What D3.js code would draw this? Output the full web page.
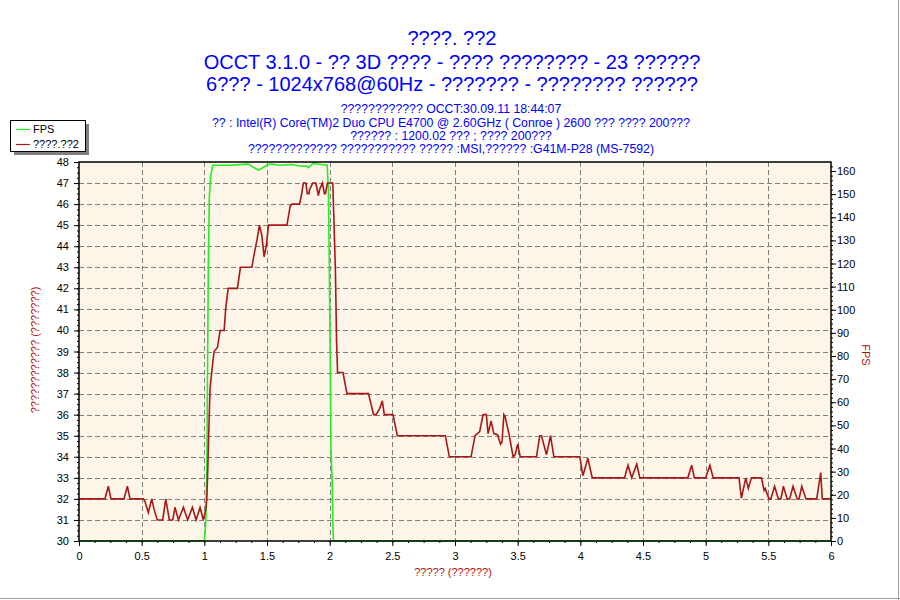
<!DOCTYPE html>
<html><head><meta charset="utf-8">
<script src="https://cdn.jsdelivr.net/npm/d3@7"></script>
<style>body{margin:0;background:#fff}svg{display:block}</style>
</head><body>
<svg id="c" width="900" height="600"></svg>
<script>
const titleLines = ["????. ??2","OCCT 3.1.0 - ?? 3D ???? - ???? ???????? - 23 ??????","6??? - 1024x768@60Hz - ??????? - ???????? ??????"];
const infoLines = ["???????????? OCCT:30.09.11 18:44:07","?? : Intel(R) Core(TM)2 Duo CPU E4700 @ 2.60GHz ( Conroe ) 2600 ??? ???? 200???","?????? : 1200.02 ??? ; ???? 200???","????????????? ??????????? ????? :MSI,?????? :G41M-P28 (MS-7592)"];
const legendNames = ["FPS","????.??2"];
const xTitle = "????? (??????)";
const yLeftTitle = "???????????? (???????)";
const yRightTitle = "FPS";
const xTickValues = [0,0.5,1,1.5,2,2.5,3,3.5,4,4.5,5,5.5,6];
const yLeftTickValues = [30,31,32,33,34,35,36,37,38,39,40,41,42,43,44,45,46,47,48];
const yRightTickValues = [0,10,20,30,40,50,60,70,80,90,100,110,120,130,140,150,160];

// temperature series (red, left axis)
const tempT = [0,0.207,0.234,0.255,0.359,0.386,0.407,0.513,0.525,0.553,0.58,0.599,0.625,0.668,0.692,0.721,0.748,0.766,0.793,0.833,0.867,0.905,0.934,0.966,0.992,1.012,1.02,1.028,1.038,1.046,1.068,1.078,1.105,1.126,1.158,1.17,1.19,1.264,1.288,1.379,1.40,1.42,1.44,1.459,1.477,1.494,1.512,1.659,1.685,1.70,1.76,1.777,1.79,1.81,1.822,1.835,1.84,1.865,1.89,1.91,1.92,1.942,1.958,1.966,1.982,2.025,2.035,2.046,2.055,2.063,2.106,2.138,2.31,2.35,2.37,2.40,2.42,2.436,2.505,2.54,2.923,2.955,3.128,3.16,3.197,3.224,3.25,3.264,3.288,3.31,3.34,3.363,3.375,3.39,3.40,3.43,3.464,3.48,3.50,3.52,3.65,3.676,3.69,3.73,3.762,3.789,3.996,4.02,4.04,4.06,4.095,4.353,4.38,4.41,4.45,4.475,4.858,4.888,4.91,5.0,5.034,5.06,5.266,5.285,5.32,5.34,5.365,5.445,5.466,5.475,5.505,5.52,5.55,5.58,5.60,5.62,5.65,5.67,5.697,5.73,5.745,5.767,5.80,5.886,5.918,5.93,6];
const tempV = [32,32,32.6,32,32,32.6,32,32,31.9,31.35,32,31.5,31,31,32,31,31,31.6,31,31.6,31,31.6,31,31.6,31,31.5,32,33.5,35.75,37.3,38.5,39,39.2,40,40,41,42,42,43,43,43.7,44.3,45,44.5,43.5,44,45,45,45.9,46,46,46.5,47,47,46.5,46.5,46.7,47,47,46.4,46.7,47,46.5,46.5,47,47,45,42.8,39.5,38,38,37,37,36,36,36.3,36.66,36,36,35,35,34,34,35,35.2,36,36,35.1,35.7,35.1,35.05,34.6,34.7,36,35.9,35.1,34,34.1,34.6,34,34,35,35,34.1,35,34,34,33.1,33.5,33.93,33,33,33.6,33,33.65,33,33,33.6,33,33,33.6,33,33,32.03,33,32.5,33,33,32.4,32.5,32,32,32.6,32,32,32.6,32,32,32.6,32,32,32.6,32,32,33.25,32,32];

// FPS series (green, right axis)
const fpsT = [0,1.0,1.012,1.02,1.025,1.032,1.04,1.05,1.067,1.2,1.35,1.38,1.406,1.432,1.46,1.5,1.53,1.6,1.7,1.75,1.82,1.83,1.87,1.9,1.98,1.99,1.997,2.003,2.01,2.02,2.025,2.03,6];
const fpsV = [0,0,8,30,70,119,149,157.5,162.5,162.5,163,162,161.2,160.4,161.2,162.5,163,162.5,162.8,162.3,162,161.5,163.4,163,162.5,151.8,119,85,40,26,8,0,0];

const svg = d3.select("#c");
const L = 79, R = 831, T = 162, B = 541;
const x = d3.scaleLinear().domain([0,6]).range([L,R]);
const yL = d3.scaleLinear().domain([30,48]).range([B,T]);
const yR = d3.scaleLinear().domain([0,163.9]).range([B,T]);
const FONT = "'Liberation Sans', Arial, sans-serif";

// frame lines
svg.append("line").attr("x1",898.5).attr("x2",898.5).attr("y1",0).attr("y2",600).attr("stroke","#a0a0a0").attr("stroke-width",1);
svg.append("line").attr("x1",0).attr("x2",900).attr("y1",598.5).attr("y2",598.5).attr("stroke","#a0a0a0").attr("stroke-width",1);

// titles
const titleY = [45,69,91];
titleLines.forEach((t,i)=>svg.append("text").attr("x",452).attr("y",titleY[i]).attr("text-anchor","middle")
  .attr("font-family",FONT).attr("font-size",20).attr("fill","#0000ff").text(t));
const infoY = [113,127,140,153];
infoLines.forEach((t,i)=>svg.append("text").attr("x",451).attr("y",infoY[i]).attr("text-anchor","middle")
  .attr("font-family",FONT).attr("font-size",12.3).attr("fill","#0000ff").text(t));

// plot bg
svg.append("rect").attr("x",L).attr("y",T).attr("width",R-L).attr("height",B-T).attr("fill","#fdf6e8");

// grid
const grid = svg.append("g").attr("stroke","#808080").attr("stroke-dasharray","5,3").attr("stroke-width",1);
xTickValues.filter(v=>v>0&&v<6).forEach(v=>grid.append("line").attr("x1",Math.round(x(v))+0.5).attr("x2",Math.round(x(v))+0.5).attr("y1",T).attr("y2",B));
yLeftTickValues.filter(v=>v>30&&v<48).forEach(v=>grid.append("line").attr("y1",Math.round(yL(v))+0.5).attr("y2",Math.round(yL(v))+0.5).attr("x1",L).attr("x2",R));

// lines
const fpsLine = d3.line().x((d,i)=>x(fpsT[i])).y((d,i)=>yR(fpsV[i]));
svg.append("path").attr("d",fpsLine(fpsT)).attr("fill","none").attr("stroke","#22ee22").attr("stroke-width",1.6);
const tempLine = d3.line().x((d,i)=>x(tempT[i])).y((d,i)=>yL(tempV[i]));
svg.append("path").attr("d",tempLine(tempT)).attr("fill","none").attr("stroke","#a81818").attr("stroke-width",1.6);

// plot border
svg.append("rect").attr("x",L).attr("y",T).attr("width",R-L).attr("height",B-T).attr("fill","none").attr("stroke","#000").attr("stroke-width",1.5);

function styleAxis(g){
  g.select(".domain").remove();
  g.selectAll("text").attr("font-family",FONT).attr("font-size",11).attr("fill","#000");
  g.selectAll("line").attr("stroke","#000");
}
// minor ticks
const minorX = d3.range(0,6.0001,0.125);
svg.append("g").attr("transform",`translate(0,${B})`).call(d3.axisBottom(x).tickValues(minorX).tickSize(2).tickFormat("")).call(styleAxis);
svg.append("g").attr("transform",`translate(0,${B})`).call(d3.axisBottom(x).tickValues(xTickValues).tickSize(5).tickPadding(6).tickFormat(d3.format("~g"))).call(styleAxis);
const minorYL = d3.range(30,48.0001,0.25);
svg.append("g").attr("transform",`translate(${L},0)`).call(d3.axisLeft(yL).tickValues(minorYL).tickSize(2).tickFormat("")).call(styleAxis);
svg.append("g").attr("transform",`translate(${L},0)`).call(d3.axisLeft(yL).tickValues(yLeftTickValues).tickSize(5).tickPadding(5).tickFormat(d3.format("d"))).call(styleAxis);
const minorYR = d3.range(0,164,2);
svg.append("g").attr("transform",`translate(${R},0)`).call(d3.axisRight(yR).tickValues(minorYR).tickSize(2).tickFormat("")).call(styleAxis);
svg.append("g").attr("transform",`translate(${R},0)`).call(d3.axisRight(yR).tickValues(yRightTickValues).tickSize(5).tickPadding(1).tickFormat(d3.format("d"))).call(styleAxis);

// axis titles
svg.append("text").attr("x",453).attr("y",576).attr("text-anchor","middle").attr("font-family",FONT).attr("font-size",11).attr("fill","#b01010").text(xTitle);
svg.append("text").attr("transform","translate(39,350) rotate(-90)").attr("text-anchor","middle").attr("font-family",FONT).attr("font-size",11).attr("fill","#b01010").text(yLeftTitle);
svg.append("text").attr("transform","translate(862,355) rotate(90)").attr("text-anchor","middle").attr("font-family",FONT).attr("font-size",11).attr("fill","#b01010").text(yRightTitle);

// legend
const lg = svg.append("g");
lg.append("rect").attr("x",14).attr("y",124).attr("width",75).attr("height",31).attr("fill","#808080");
lg.append("rect").attr("x",10.5).attr("y",120.5).attr("width",75).attr("height",31).attr("fill","#fff").attr("stroke","#000");
const legColors = ["#22ee22","#a81818"];
legendNames.forEach((n,i)=>{
  const yy = 129 + i*15;
  lg.append("line").attr("x1",16).attr("x2",30).attr("y1",yy+0.5).attr("y2",yy+0.5).attr("stroke",legColors[i]).attr("stroke-width",1.2);
  lg.append("text").attr("x",33).attr("y",yy+4).attr("font-family",FONT).attr("font-size",11).attr("fill","#000").text(n);
});
</script>
</body></html>
